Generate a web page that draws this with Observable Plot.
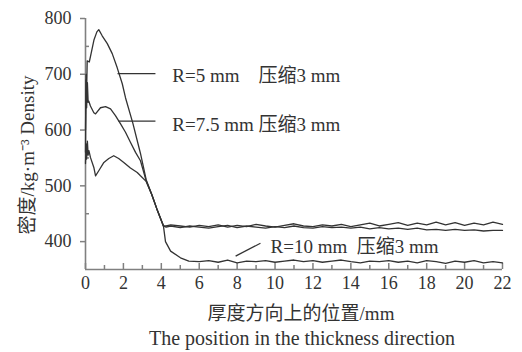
<!DOCTYPE html>
<html><head><meta charset="utf-8">
<script src="https://cdn.jsdelivr.net/npm/d3@7"></script>
<script src="https://cdn.jsdelivr.net/npm/@observablehq/plot@0.6"></script>
<style>body{margin:0;background:#fff}</style>
</head><body><div id="chart"></div>
<script>
// Density curves: [position mm, density kg/m3]
const r5 = [[0,560],[0.03,700],[0.06,670],[0.09,724],[0.2,722],[0.3,738],[0.45,762],[0.6,776],[0.7,780],[0.88,769],[1.15,755],[1.41,737],[1.67,712],[1.94,683],[2.11,658],[2.5,612],[2.9,558],[3.2,511],[3.5,484],[3.75,460],[4.0,438],[4.12,428],
 [4.25,428],[4.5,430],[5,428],[5.5,426],[6,429],[6.5,427],[7,430],[7.5,426],[8,429],[8.5,427],[9,431],[9.5,428],[10,426],[10.5,429],[11,432],[11.5,428],[12,427],[12.5,430],[13,428],[13.5,431],[14,427],[14.5,430],[15,433],[15.5,428],[16,431],[16.5,434],[17,429],[17.5,433],[18,430],[18.5,435],[19,430],[19.5,434],[20,429],[20.5,433],[21,430],[21.5,435],[22,431]];
const r75 = [[0,600],[0.03,690],[0.06,640],[0.1,685],[0.14,650],[0.17,652],[0.26,643],[0.44,631],[0.53,629],[0.79,640],[1.06,642],[1.32,638],[1.58,626],[1.85,611],[2.11,596],[2.37,578],[2.64,560],[2.9,545],[3.2,509],[3.5,484],[3.75,460],[4.0,438],[4.12,428],
 [4.25,426],[4.5,428],[5,425],[5.5,428],[6,426],[6.5,424],[7,427],[7.5,429],[8,425],[8.5,428],[9,426],[9.5,424],[10,427],[10.5,425],[11,428],[11.5,425],[12,424],[12.5,427],[13,425],[13.5,426],[14,424],[14.5,426],[15,423],[15.5,425],[16,423],[16.5,424],[17,422],[17.5,424],[18,421],[18.5,422],[19,420],[19.5,422],[20,420],[20.5,421],[21,419],[21.5,420],[22,420]];
const r10 = [[0,540],[0.03,575],[0.06,548],[0.1,580],[0.14,555],[0.18,563],[0.26,551],[0.44,533],[0.53,518],[0.7,527],[0.97,542],[1.23,549],[1.49,554],[1.75,549],[2.02,542],[2.37,532],[2.73,524],[2.9,518],[3.2,508],[3.5,484],[3.75,460],[4.0,438],[4.12,426],
 [4.22,400],[4.49,383],[5.01,371],[5.45,365],[6,364],[6.5,366],[7,363],[7.5,367],[8,362],[8.5,365],[9,364],[9.5,366],[10,363],[10.5,365],[11,367],[11.5,364],[12,366],[12.5,363],[13,365],[13.5,367],[14,364],[14.5,362],[15,365],[15.5,364],[16,366],[16.5,363],[17,365],[17.5,362],[18,366],[18.5,364],[19,361],[19.5,365],[20,363],[20.5,366],[21,362],[21.5,364],[22,362]];

const seriesNames = ["R=5 mm", "R=7.5 mm", "R=10 mm"];
const annotTexts = ["R=5 mm\u00a0\u00a0\u00a0\u00a0压缩3 mm", "R=7.5 mm 压缩3 mm", "R=10 mm\u00a0\u00a0压缩3 mm"];
const annotX = [4.58, 4.58, 9.76];
const annotY = [697, 609, 390];
const leaderX1 = [1.69, 1.74, 7.92];
const leaderY1 = [701, 616, 374];
const leaderX2 = [3.69, 3.69, 9.23];
const leaderY2 = [701, 616, 397];

const xMajor = [0,2,4,6,8,10,12,14,16,18,20,22];
const xMinor = [1,3,5,7,9,11,13,15,17,19,21];
const yMajor = [400,500,600,700,800];
const yMinor = [450,550,650,750];

const xLabelCn = "厚度方向上的位置/mm";
const xLabelEn = "The position in the thickness direction";
const yLabel = "密度/kg·m⁻³ Density";

const data = [];
[r5, r75, r10].forEach((s, i) => s.forEach(([x, v]) => data.push({series: seriesNames[i], x, v})));
const annots = annotTexts.map((t, i) => ({t, x: annotX[i], y: annotY[i]}));
const leaders = leaderX1.map((x1, i) => ({x1, y1: leaderY1[i], x2: leaderX2[i], y2: leaderY2[i]}));

const axisColor = "#808080";
const ink = "#333";

const chart = Plot.plot({
  width: 522, height: 352,
  marginLeft: 85, marginRight: 20, marginTop: 18, marginBottom: 83,
  style: {fontFamily: "'Liberation Serif','Noto Sans CJK SC',serif", fontSize: "18px", color: ink, background: "#fff"},
  x: {domain: [0, 22]},
  y: {domain: [350, 800]},
  marks: [
    Plot.axisX({ticks: xMajor, tickSize: 0, tickPadding: 7, label: null, fontSize: 18, fill: ink}),
    Plot.axisX({ticks: xMajor, tickSize: -6, text: null, label: null, stroke: axisColor, strokeWidth: 1.5}),
    Plot.axisX({ticks: xMinor, tickSize: -4, text: null, label: null, stroke: axisColor, strokeWidth: 1.5}),
    Plot.axisY({ticks: yMajor, tickSize: 5, tickPadding: 9, label: null, fontSize: 18, fill: ink, stroke: axisColor, strokeWidth: 1.5}),
    Plot.axisY({ticks: yMinor, tickSize: -4, text: null, label: null, stroke: axisColor, strokeWidth: 1.5}),
    Plot.ruleX([0], {stroke: axisColor, strokeWidth: 1.6}),
    Plot.ruleY([350], {stroke: axisColor, strokeWidth: 1.6}),
    Plot.line(data, {x: "x", y: "v", z: "series", stroke: ink, strokeWidth: 1.3}),
    Plot.link(leaders, {x1: "x1", y1: "y1", x2: "x2", y2: "y2", stroke: ink, strokeWidth: 1.3}),
    Plot.text(annots, {x: "x", y: "y", text: "t", textAnchor: "start", fontSize: 19, fill: ink}),
    Plot.text([xLabelCn], {frameAnchor: "bottom", textAnchor: "middle", lineAnchor: "middle", dx: 7, dy: 44, fontSize: 19, fill: ink}),
    Plot.text([xLabelEn], {frameAnchor: "bottom", textAnchor: "middle", lineAnchor: "middle", dx: 8, dy: 69, fontSize: 20, fill: ink}),
    Plot.text([yLabel], {frameAnchor: "left", textAnchor: "middle", lineAnchor: "middle", rotate: -90, dx: -58, dy: 11, fontSize: 19, fill: ink})
  ]
});
document.getElementById("chart").appendChild(chart);
</script>
</body></html>
